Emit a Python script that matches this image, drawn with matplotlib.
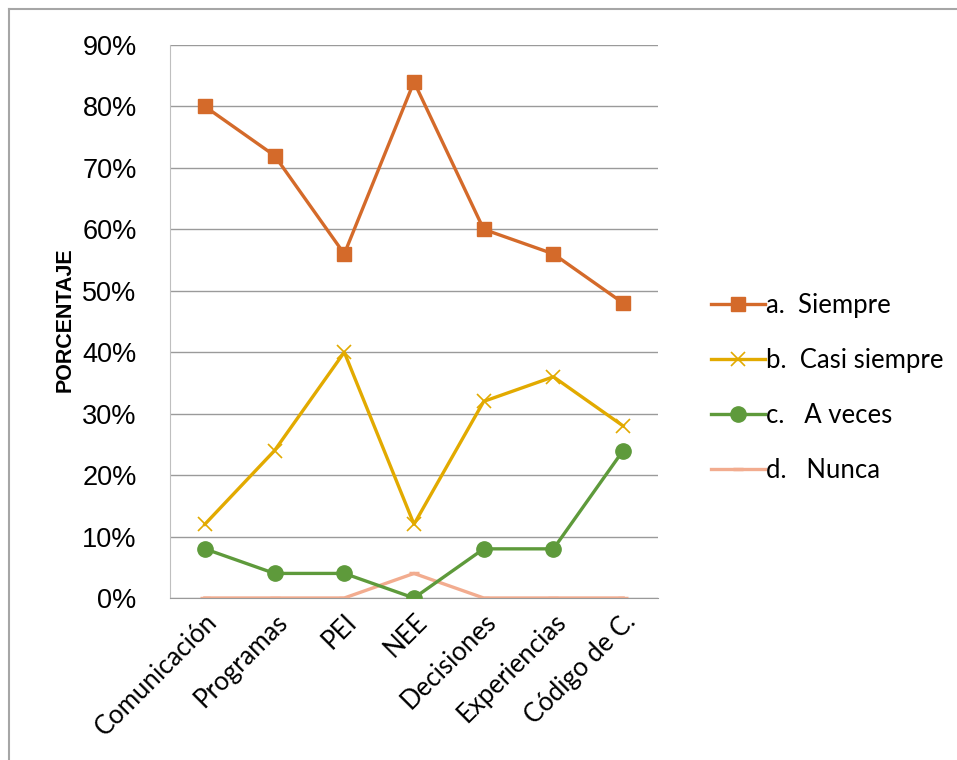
import numpy as np
import matplotlib
matplotlib.use("Agg")
from matplotlib import pyplot as plt
from matplotlib.lines import Line2D

categorias = ['Comunicación', 'Programas', 'PEI', 'NEE', 'Decisiones',
              'Experiencias', 'Código de C.']
siempre = [80, 72, 56, 84, 60, 56, 48]
casi_siempre = [12, 24, 40, 12, 32, 36, 28]
a_veces = [8, 4, 4, 0, 8, 8, 24]
nunca = [0, 0, 0, 4, 0, 0, 0]
etiquetas = ['a.  Siempre', 'b.  Casi siempre', 'c.   A veces', 'd.   Nunca']
y_ticks = [0, 10, 20, 30, 40, 50, 60, 70, 80, 90]

fig = plt.figure(figsize=(9.57, 7.6), dpi=100)
ax = fig.add_axes([170 / 957, 1 - 598 / 760, 488 / 957, 553 / 760])

x = np.arange(len(categorias))
ax.plot(x, siempre, color='#D46A2A', lw=2.4, marker='s', ms=10,
        label=etiquetas[0], zorder=5)
ax.plot(x, casi_siempre, color='#E2AA00', lw=2.4, marker='x', ms=10, mew=1.2,
        label=etiquetas[1], zorder=4)
ax.plot(x, a_veces, color='#5E9A3B', lw=2.4, marker='o', ms=11,
        label=etiquetas[2], zorder=3)
ax.plot(x, nunca, color='#F2AC8F', lw=2.4, marker='_', ms=7, mew=2.5,
        label=etiquetas[3], zorder=2)

ax.set_xlim(-0.5, len(categorias) - 0.5)
ax.set_ylim(0, 90)
ax.set_yticks(y_ticks)
ax.set_yticklabels([f'{v}%' for v in y_ticks], fontsize=19.5,
                   fontfamily='Liberation Sans')
ax.set_xticks(x)
ax.set_xticklabels(categorias, rotation=45, ha='right', rotation_mode='anchor',
                   fontsize=18.5, fontfamily='Lato')
ax.tick_params(axis='x', length=0, pad=8)
ax.tick_params(axis='y', length=0, pad=24)
ax.yaxis.grid(True, color='#9A9A9A', lw=1)
ax.set_axisbelow(True)
for s in ['top', 'right']:
    ax.spines[s].set_visible(False)
ax.spines['left'].set_color('#BFBFBF')
ax.spines['bottom'].set_color('#9A9A9A')

fig.text(65 / 957, 1 - 320 / 760, 'PORCENTAJE', rotation=90, va='center',
         ha='center', fontsize=15.5, fontweight='bold',
         fontfamily='Liberation Sans')

leg = fig.legend(loc='center left', bbox_to_anchor=(688 / 957, 1 - 388 / 760),
                 frameon=False, prop={'family': 'Lato', 'size': 18.5},
                 handlelength=2.1, handletextpad=0.05, labelspacing=1.18)

# marco exterior
fig.add_artist(Line2D([9 / 957, 1], [1 - 9 / 760, 1 - 9 / 760],
                      transform=fig.transFigure, color='#A6A6A6', lw=1.5))
fig.add_artist(Line2D([9 / 957, 9 / 957], [0, 1 - 9 / 760],
                      transform=fig.transFigure, color='#A6A6A6', lw=1.5))

fig.savefig('out.png', dpi=100)
